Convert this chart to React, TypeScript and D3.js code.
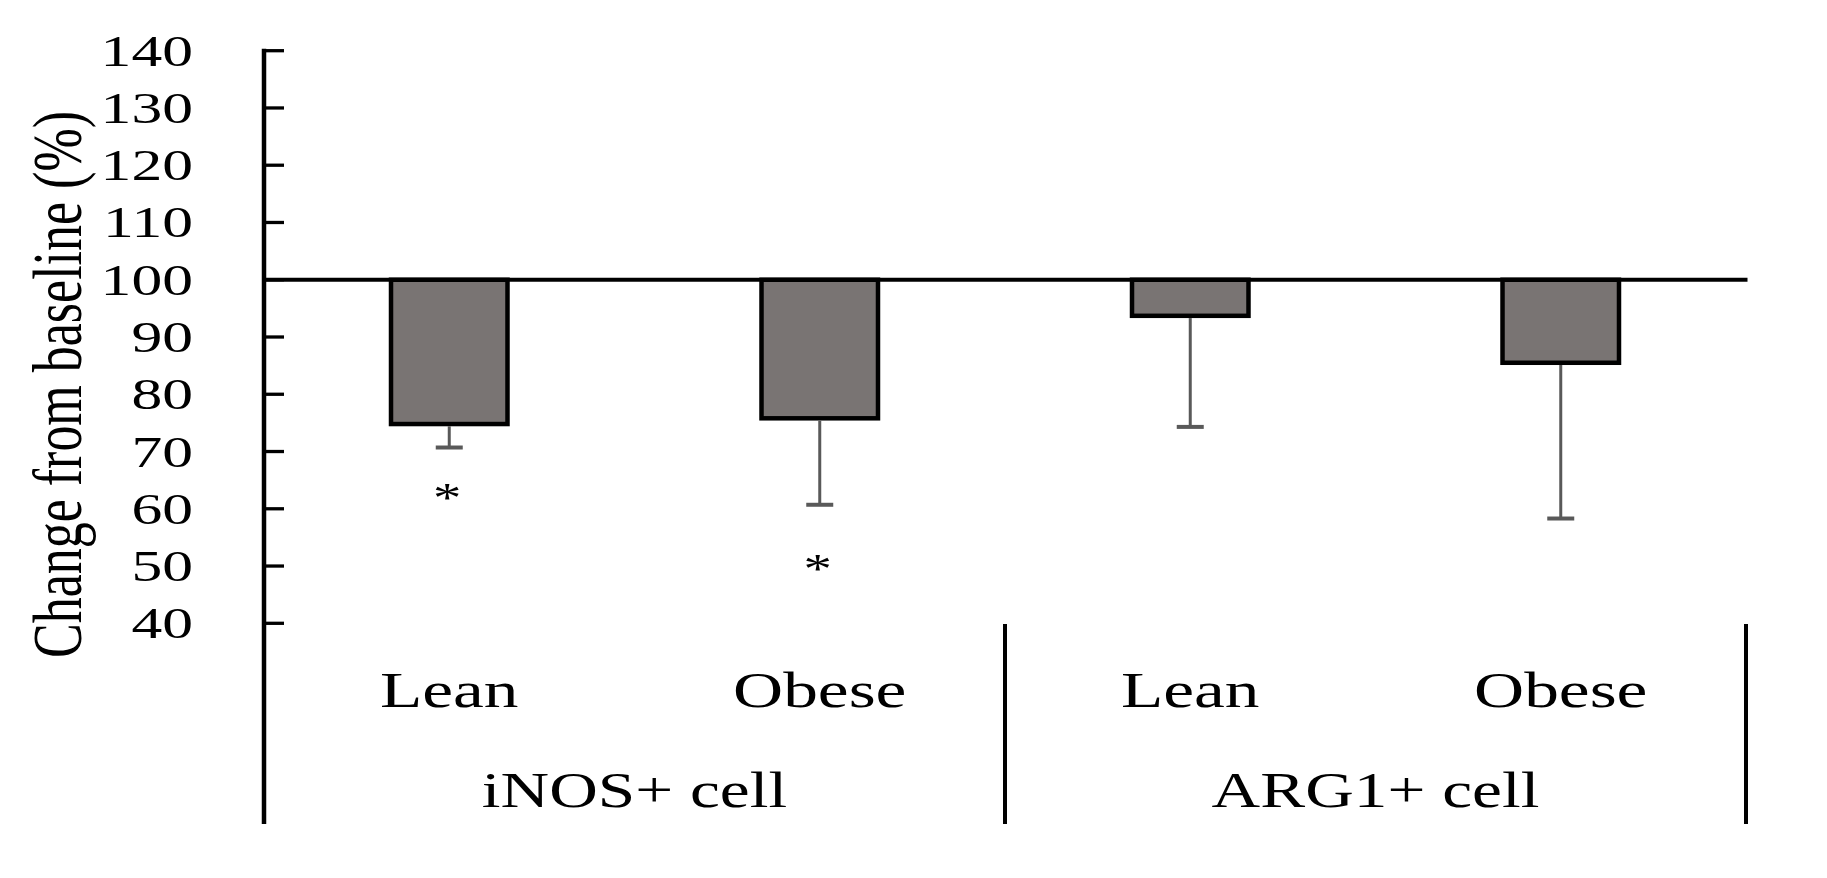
import React from "react";
import * as d3 from "d3";

// ---- data ----
const groups = ["iNOS+ cell", "ARG1+ cell"];
const categories = ["Lean", "Obese", "Lean", "Obese"];
const categoryGroup = [0, 0, 1, 1];
const means = [74.8, 75.8, 93.7, 85.5];
const errors = [4.1, 15.1, 19.4, 27.2];
const sigMarks = ["*", "*", "", ""];
const sigValues = [63.0, 50.6, 0, 0];
const yTickValues = [40, 50, 60, 70, 80, 90, 100, 110, 120, 130, 140];
const yLabel = "Change from baseline (%)";
const baselineValue = 100;

const W = 1827;
const H = 878;
const FONT = "'Liberation Serif', 'Times New Roman', serif";
const STRETCH = 1.36;

export default function App() {
  const left = 264;
  const right = 1746;
  const y = d3.scaleLinear().domain([40, 140]).range([623.3, 50.7]);
  const ids = categories.map((c, i) => `${groups[categoryGroup[i]]}-${c}-${i}`);
  const x = d3
    .scaleBand<string>()
    .domain(ids)
    .range([left, right])
    .paddingInner(0.6856)
    .paddingOuter(0.3428);
  const gx = d3.scaleBand<string>().domain(groups).range([left, right]).padding(0);
  const bw = x.bandwidth();
  const axisBottom = 824;
  const dividerTop = 624;
  const catBaseline = 706.7;
  const groupBaseline = 806.7;

  const stretchedText = (
    key: string,
    tx: number,
    ty: number,
    text: string,
    size: number,
    anchor: string,
    sx: number
  ) => (
    <text
      key={key}
      transform={`translate(${tx},${ty}) scale(${sx},1)`}
      textAnchor={anchor as any}
      fontFamily={FONT}
      fontSize={size}
      fill="#000"
    >
      {text}
    </text>
  );

  return (
    <svg
      width={W}
      height={H}
      style={{ position: "absolute", left: 0, top: 0, background: "#fff" }}
    >
      <rect x={0} y={0} width={W} height={H} fill="#fff" />

      {/* y axis label */}
      <text
        transform={`translate(81,384.5) rotate(-90) scale(1,1.36)`}
        textAnchor="middle"
        fontFamily={FONT}
        fontSize={52}
        fill="#000"
      >
        {yLabel}
      </text>

      {/* y tick labels */}
      {yTickValues.map((t) =>
        stretchedText(`yt${t}`, 193, y(t) + 15, String(t), 44, "end", 1.4)
      )}

      {/* bars */}
      {means.map((m, i) => {
        const x0 = x(ids[i]) as number;
        return (
          <rect
            key={`bar${i}`}
            x={x0}
            y={y(baselineValue)}
            width={bw}
            height={y(m) - y(baselineValue)}
            fill="#797473"
            stroke="#000"
            strokeWidth={4.5}
          />
        );
      })}

      {/* error bars (lower) */}
      {means.map((m, i) => {
        const cx = (x(ids[i]) as number) + bw / 2;
        const y0 = y(m) + 2.25;
        const y1 = y(m - errors[i]);
        return (
          <g key={`err${i}`} stroke="#595959">
            <line x1={cx} x2={cx} y1={y0} y2={y1} strokeWidth={3} />
            <line x1={cx - 13.5} x2={cx + 13.5} y1={y1} y2={y1} strokeWidth={4} />
          </g>
        );
      })}

      {/* significance marks */}
      {sigMarks.map((s, i) =>
        s
          ? stretchedText(
              `sig${i}`,
              (x(ids[i]) as number) + bw / 2 - 2,
              y(sigValues[i]) + 20,
              s,
              42,
              "middle",
              1.35
            )
          : null
      )}

      {/* baseline at 100 */}
      <line
        x1={left}
        x2={right + 1.5}
        y1={y(baselineValue)}
        y2={y(baselineValue)}
        stroke="#000"
        strokeWidth={4}
      />

      {/* y axis line and ticks */}
      <line x1={left} x2={left} y1={y(140) - 2} y2={axisBottom} stroke="#000" strokeWidth={4.5} />
      {yTickValues.map((t) => (
        <line
          key={`tk${t}`}
          x1={left}
          x2={left + 20}
          y1={y(t)}
          y2={y(t)}
          stroke="#000"
          strokeWidth={3.3}
        />
      ))}

      {/* group dividers */}
      {groups.map((g) => {
        const xe = (gx(g) as number) + gx.bandwidth();
        return (
          <line
            key={`div${g}`}
            x1={xe}
            x2={xe}
            y1={dividerTop}
            y2={axisBottom}
            stroke="#000"
            strokeWidth={4}
          />
        );
      })}

      {/* category labels */}
      {categories.map((c, i) =>
        stretchedText(
          `cat${i}`,
          (x(ids[i]) as number) + bw / 2,
          catBaseline,
          c,
          51,
          "middle",
          STRETCH
        )
      )}

      {/* group labels */}
      {groups.map((g) =>
        stretchedText(
          `grp${g}`,
          (gx(g) as number) + gx.bandwidth() / 2,
          groupBaseline,
          g,
          51,
          "middle",
          1.32
        )
      )}
    </svg>
  );
}
